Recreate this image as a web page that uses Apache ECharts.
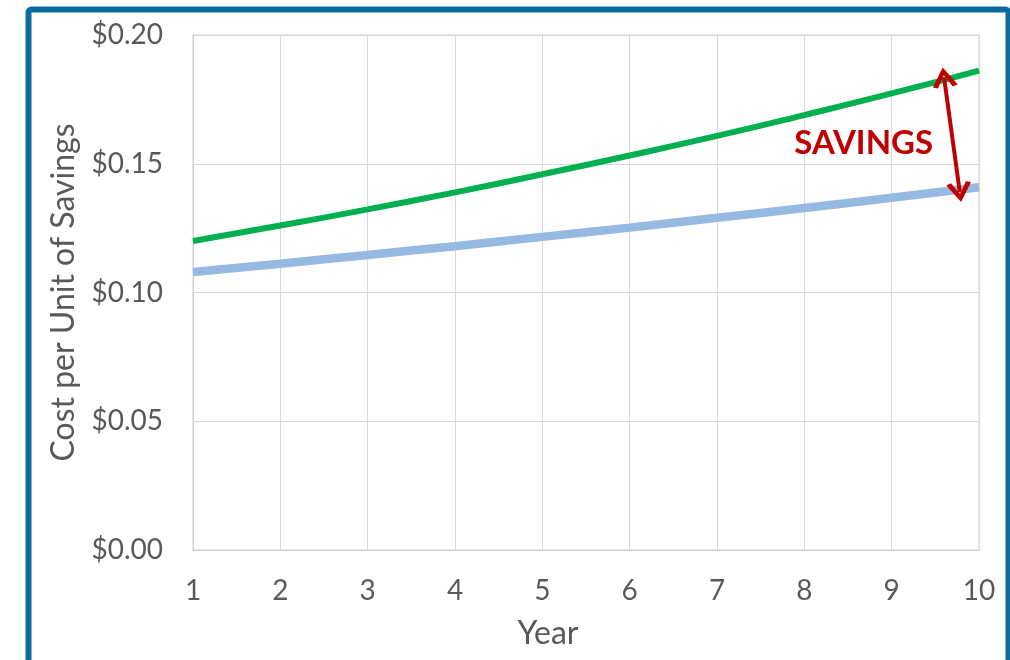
<!DOCTYPE html>
<html><head><meta charset="utf-8">
<script src="https://cdn.jsdelivr.net/npm/echarts@6/dist/echarts.min.js"></script>
<style>html,body{margin:0;padding:0;background:#fff}#c{width:1010px;height:660px}</style>
</head><body><div id="c"></div>
<script>
const years = [1,2,3,4,5,6,7,8,9,10];
const upperCost = [0.1200,0.1260,0.1323,0.1389,0.1459,0.1532,0.1608,0.1689,0.1773,0.1862];
const lowerCost = [0.1080,0.1112,0.1146,0.1180,0.1216,0.1252,0.1290,0.1328,0.1368,0.1409];
const yTicks = [0,0.05,0.10,0.15,0.20];
const savingsArrow = [[9.6,0.1835],[9.78,0.1390]];
const savingsLabel = 'SAVINGS';
const savingsLabelPos = [8.68,0.1578];

const FONT = 'Lato';
const chart = echarts.init(document.getElementById('c'), null, {renderer:'canvas'});
const chev = 'path://M0,12 L6,0 L12,12 L9.6,13 L6,5 L2.4,13 Z';
chart.setOption({
  animation:false,
  graphic:[{type:'rect',shape:{x:28.5,y:9.5,width:980,height:720,r:3},style:{fill:'none',stroke:'#0B6A9F',lineWidth:6},z:100}],
  grid:{left:193,right:31,top:35,bottom:110,show:true,borderColor:'#D0D0D0',borderWidth:1},
  xAxis:{type:'value',min:1,max:10,interval:1,
    name:'Year',nameLocation:'middle',nameGap:68,
    nameTextStyle:{fontFamily:FONT,fontSize:32,color:'#595959',padding:[0,76,0,0]},
    axisLine:{show:true,lineStyle:{color:'#D0D0D0'}},axisTick:{show:false},
    axisLabel:{fontFamily:FONT,fontSize:28,color:'#595959',margin:27},
    splitLine:{show:true,lineStyle:{color:'#D9D9D9',width:1}}},
  yAxis:{type:'value',min:0,max:0.2,interval:0.05,
    name:'Cost per Unit of Savings',nameLocation:'middle',nameGap:113,
    nameTextStyle:{fontFamily:FONT,fontSize:32,color:'#595959'},
    axisLine:{show:true,lineStyle:{color:'#D0D0D0'}},axisTick:{show:false},
    axisLabel:{fontFamily:FONT,fontSize:28,color:'#595959',margin:30,
      formatter:v=>{const t=yTicks.find(x=>Math.abs(x-v)<1e-9);return '$'+(t!==undefined?t:v).toFixed(2);}},
    splitLine:{show:true,lineStyle:{color:'#D9D9D9',width:1}}},
  series:[
    {type:'line',data:years.map((y,i)=>[y,lowerCost[i]]),showSymbol:false,smooth:true,
      lineStyle:{color:'#95B9E1',width:8.5},z:2},
    {type:'line',data:years.map((y,i)=>[y,upperCost[i]]),showSymbol:false,smooth:true,
      lineStyle:{color:'#00B050',width:6},z:3,
      markLine:{silent:true,symbol:[chev,chev],symbolSize:[25,20],label:{show:false},
        lineStyle:{color:'#C00000',width:4,type:'solid'},
        data:[[{coord:savingsArrow[0]},{coord:savingsArrow[1]}]]},
      markPoint:{silent:true,symbol:'rect',symbolSize:1,itemStyle:{color:'rgba(0,0,0,0)'},
        label:{show:true,position:'inside',formatter:savingsLabel,fontFamily:FONT,fontSize:33,fontWeight:'bold',color:'#C00000'},
        data:[{coord:savingsLabelPos}]}}
  ]
});
</script></body></html>
